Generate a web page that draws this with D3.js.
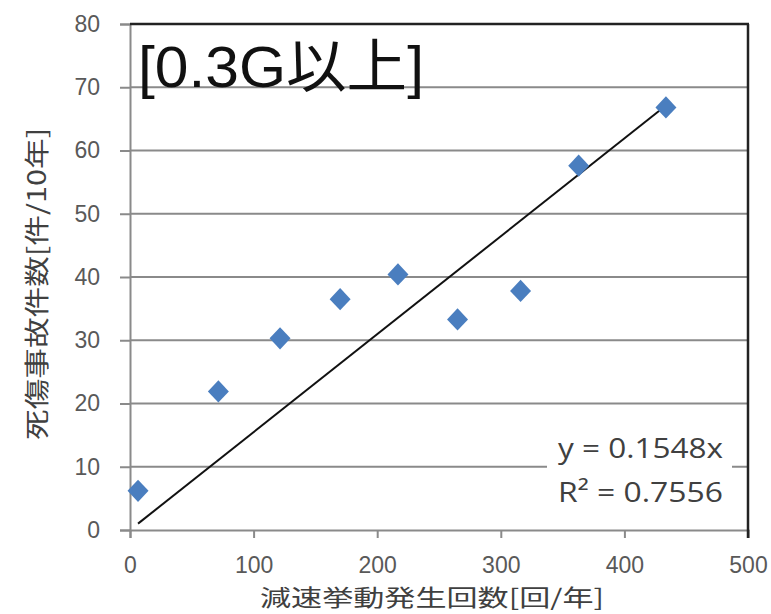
<!DOCTYPE html>
<html><head><meta charset="utf-8">
<script src="https://cdn.jsdelivr.net/npm/d3@7"></script>
<style>body{margin:0;background:#fff}svg{display:block}</style>
</head><body>
<script>
const xValues = [6.5, 71.5, 121.4, 170, 216.8, 265, 316, 363, 433.6];
const yValues = [6.2, 21.9, 30.3, 36.5, 40.4, 33.3, 37.8, 57.6, 66.8];
const slope = 0.1548;
const xTicks = [0, 100, 200, 300, 400, 500];
const yTicks = [0, 10, 20, 30, 40, 50, 60, 70, 80];
const titleText = "[0.3G以上]";
const xTitle = "減速挙動発生回数[回/年]";
const yTitle = "死傷事故件数[件/10年]";
const eqLine1 = "y = 0.1548x";
const eqLine2 = "R² = 0.7556";

const W = 771, H = 614;
const L = 130, R = 748, T = 24, B = 530;
const svg = d3.select("body").append("svg").attr("width", W).attr("height", H);
const x = d3.scaleLinear().domain([0, 500]).range([L, R]);
const y = d3.scaleLinear().domain([0, 80]).range([B, T]);
const font = "'Noto Sans CJK JP','Open Sans',sans-serif";
const numFont = "'Liberation Sans',sans-serif";
const eqFont = "'Open Sans',sans-serif";

// gridlines
svg.append("g").selectAll("line").data(yTicks.filter(d => d > 0 && d < 80)).join("line")
  .attr("x1", L).attr("x2", R).attr("y1", d => y(d)).attr("y2", d => y(d))
  .attr("stroke", "#8a8a8a").attr("stroke-width", 2);

// y axis
const yAxis = svg.append("g").attr("transform", `translate(${L},0)`)
  .call(d3.axisLeft(y).tickValues(yTicks).tickSize(10).tickPadding(20));
yAxis.select(".domain").attr("stroke", "#8a8a8a").attr("stroke-width", 2);
yAxis.selectAll(".tick line").attr("stroke", "#8a8a8a").attr("stroke-width", 2);
yAxis.selectAll("text").attr("font-family", numFont).attr("font-size", 23).attr("fill", "#595959");

// x axis
const xAxis = svg.append("g").attr("transform", `translate(0,${B})`)
  .call(d3.axisBottom(x).tickValues(xTicks).tickSize(8).tickPadding(19));
xAxis.select(".domain").attr("stroke", "#8a8a8a").attr("stroke-width", 2);
xAxis.selectAll(".tick line").attr("stroke", "#8a8a8a").attr("stroke-width", 2);
xAxis.selectAll("text").attr("font-family", numFont).attr("font-size", 23).attr("fill", "#595959");

// top and right borders
svg.append("line").attr("x1", L).attr("x2", R + 1).attr("y1", T).attr("y2", T).attr("stroke", "#222").attr("stroke-width", 2.5);
svg.append("line").attr("x1", R).attr("x2", R).attr("y1", T).attr("y2", B + 8).attr("stroke", "#222").attr("stroke-width", 2.5);

// trendline
const xmin = d3.min(xValues), xmax = d3.max(xValues);
svg.append("line").attr("x1", x(xmin)).attr("y1", y(slope * xmin))
  .attr("x2", x(xmax)).attr("y2", y(slope * xmax))
  .attr("stroke", "#111").attr("stroke-width", 2);

// markers (square rotated 45deg)
const sym = d3.symbol().type(d3.symbolSquare).size(220);
svg.append("g").selectAll("path").data(xValues.map((v, i) => [v, yValues[i]])).join("path")
  .attr("d", sym)
  .attr("transform", d => `translate(${x(d[0])},${y(d[1])}) scale(1,1.06) rotate(45)`)
  .attr("fill", "#4a7ebf");

// equation box
svg.append("rect").attr("x", 547).attr("y", 432).attr("width", 185).attr("height", 78).attr("fill", "#fff");
svg.append("text").attr("x", 558).attr("y", 458).attr("font-family", eqFont)
  .attr("font-size", 28).attr("fill", "#404040").attr("textLength", 165).attr("lengthAdjust", "spacingAndGlyphs").text(eqLine1);
svg.append("text").attr("x", 558).attr("y", 502).attr("font-family", eqFont)
  .attr("font-size", 28).attr("fill", "#404040").attr("textLength", 165).attr("lengthAdjust", "spacingAndGlyphs").text(eqLine2);

// title inside plot
svg.append("text").attr("x", 138).attr("y", 87).attr("font-family", "'Liberation Sans','Noto Sans CJK JP',sans-serif")
  .attr("font-size", 58).attr("fill", "#111").attr("textLength", 286).attr("lengthAdjust", "spacingAndGlyphs").text(titleText);

// axis titles
svg.append("text").attr("x", 260).attr("y", 606).attr("font-family", font)
  .attr("font-size", 23).attr("fill", "#404040").attr("textLength", 344).attr("lengthAdjust", "spacingAndGlyphs").text(xTitle);
svg.append("text").attr("transform", "translate(46,440) rotate(-90)").attr("font-family", font)
  .attr("font-size", 25).attr("fill", "#404040").attr("textLength", 312).attr("lengthAdjust", "spacingAndGlyphs").text(yTitle);
</script>
</body></html>
